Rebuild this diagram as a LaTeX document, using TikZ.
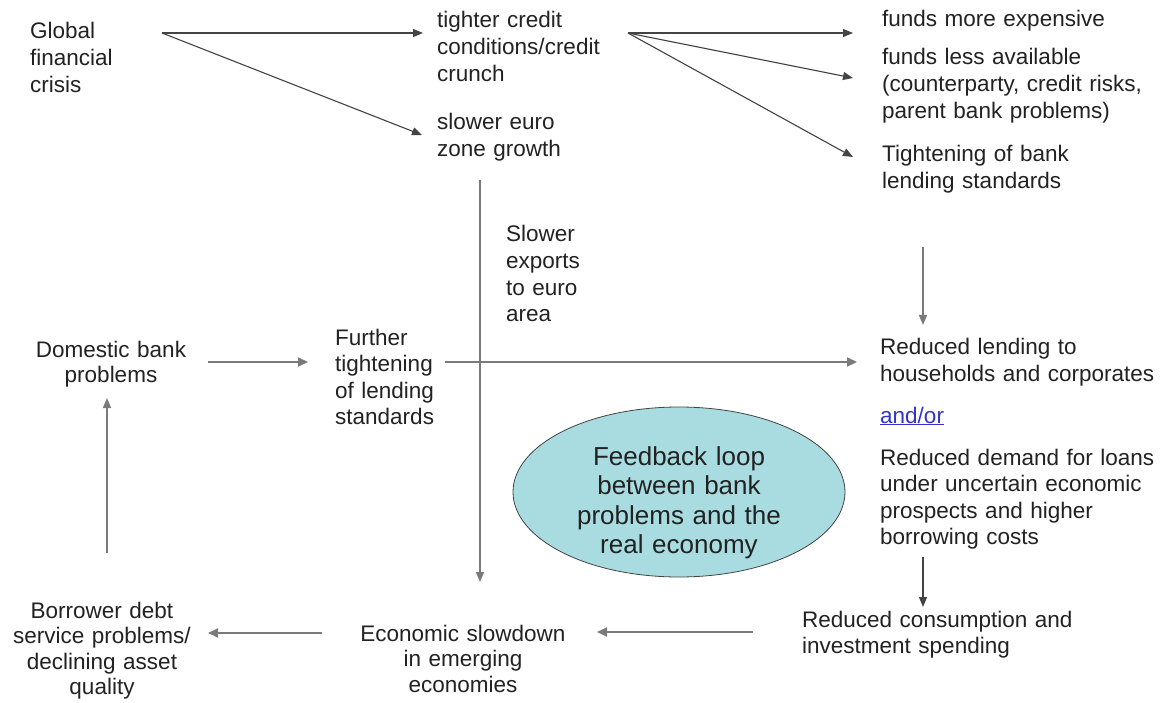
\documentclass[tikz,border=0pt]{standalone}
\usepackage{fontspec}
\setmainfont{Liberation Sans}
\usetikzlibrary{arrows.meta,shapes.geometric}
\definecolor{txt}{HTML}{222222}
\definecolor{ln}{HTML}{444444}
\definecolor{lnl}{HTML}{7A7A7A}
\definecolor{loopfill}{HTML}{A8DCE0}
\definecolor{linkblue}{HTML}{3333CC}
\tikzset{
  lbl/.style={inner sep=0pt, anchor=base west, text=txt,
    font=\fontsize{22.5}{26.6}\selectfont, align=left, text width=300pt},
  clbl/.style={inner sep=0pt, anchor=base, text=txt,
    font=\fontsize{22.5}{25.5}\selectfont, align=center, text width=#1},
  arr/.style={draw=ln, line width=1.1pt, -{Triangle[length=10pt,width=8pt]}},
  arrg/.style={draw=lnl, line width=2pt, -{Triangle[length=10pt,width=9pt]}},
  plain/.style={draw=lnl, line width=1.8pt},
}
\begin{document}
\begin{tikzpicture}[x=1pt,y=-1pt]
\useasboundingbox[fill=white] (0,0) rectangle (1162,703);

% text nodes
\node[lbl] (gfc) at (30,39) {Global\\financial\\crisis};
\node[lbl] (tcc) at (437,28) {tighter credit\\conditions/credit\\crunch};
\node[lbl] (sez) at (437,130) {slower euro\\zone growth};
\node[lbl] (fme) at (882,27) {funds more expensive};
\node[lbl] (fla) at (882,65) {funds less available\\(counterparty, credit risks,\\parent bank problems)};
\node[lbl] (tbl) at (882,162) {Tightening of bank\\lending standards};
\node[lbl] (sea) at (506,242) {Slower\\exports\\to euro\\area};
\node[clbl=200pt] (dbp) at (111,357) {Domestic bank\\problems};
\node[lbl] (ftl) at (335,345) {Further\\tightening\\of lending\\standards};
\node[lbl] (rlh) at (880,355) {Reduced lending to\\households and corporates};
\node[lbl, text=linkblue] (andor) at (880,423) {\underline{and/or}};
\node[lbl] (rdl) at (880,465) {Reduced demand for loans\\under uncertain economic\\prospects and higher\\borrowing costs};
\node[lbl] (rci) at (802,627) {Reduced consumption and\\investment spending};
\node[clbl=230pt] (esl) at (463,641) {Economic slowdown\\in emerging\\economies};
\node[clbl=200pt] (bds) at (102,618) {Borrower debt\\service problems/\\declining asset\\quality};

% feedback ellipse
\node[ellipse, draw=ln, line width=0.8pt, fill=loopfill, minimum width=332pt,
      minimum height=170pt, inner sep=0pt] (loop) at (679,492) {};
\node[inner sep=0pt, anchor=base, text=txt, font=\fontsize{26}{29.5}\selectfont,
      align=center, text width=260pt] (looptxt) at (679,465)
      {Feedback loop\\between bank\\problems and the\\real economy};

% connector end points
\coordinate (gfcR) at (162,33);
\coordinate (tccIn) at (423,33);
\coordinate (sezIn) at (422,135);
\coordinate (tccR) at (628,33);
\coordinate (fmeIn) at (853,33);
\coordinate (flaIn) at (853,78);
\coordinate (tblIn) at (853,157);
\coordinate (sezB) at (480,180);
\coordinate (eslIn) at (480,582);
\coordinate (tblB) at (923,247);
\coordinate (rlhIn) at (923,325);
\coordinate (dbpR) at (208,362);
\coordinate (ftlIn) at (308,362);
\coordinate (ftlR) at (445,362);
\coordinate (rlhL) at (857,362);
\coordinate (rdlB) at (923,557);
\coordinate (rciIn) at (923,607);
\coordinate (rciL) at (753,632);
\coordinate (eslR) at (597,632);
\coordinate (eslL) at (322,633);
\coordinate (bdsR) at (208,633);
\coordinate (bdsT) at (107,553);
\coordinate (dbpB) at (107,398);

% connectors
\draw[arr] (gfcR) -- (tccIn);
\draw[arr] (gfcR) -- (sezIn);
\draw[arr] (tccR) -- (fmeIn);
\draw[arr] (tccR) -- (flaIn);
\draw[arr] (tccR) -- (tblIn);
\draw[arr, draw=lnl, line width=1.5pt] (sezB) -- (eslIn);
\draw[arr, draw=lnl, line width=1.5pt] (tblB) -- (rlhIn);
\draw[arrg] (dbpR) -- (ftlIn);
\draw[arrg] (ftlR) -- (rlhL);
\draw[arr] (rdlB) -- (rciIn);
\draw[arrg] (rciL) -- (eslR);
\draw[arrg] (eslL) -- (bdsR);
\draw[arr, draw=lnl, line width=1.5pt] (bdsT) -- (dbpB);
\end{tikzpicture}
\end{document}
